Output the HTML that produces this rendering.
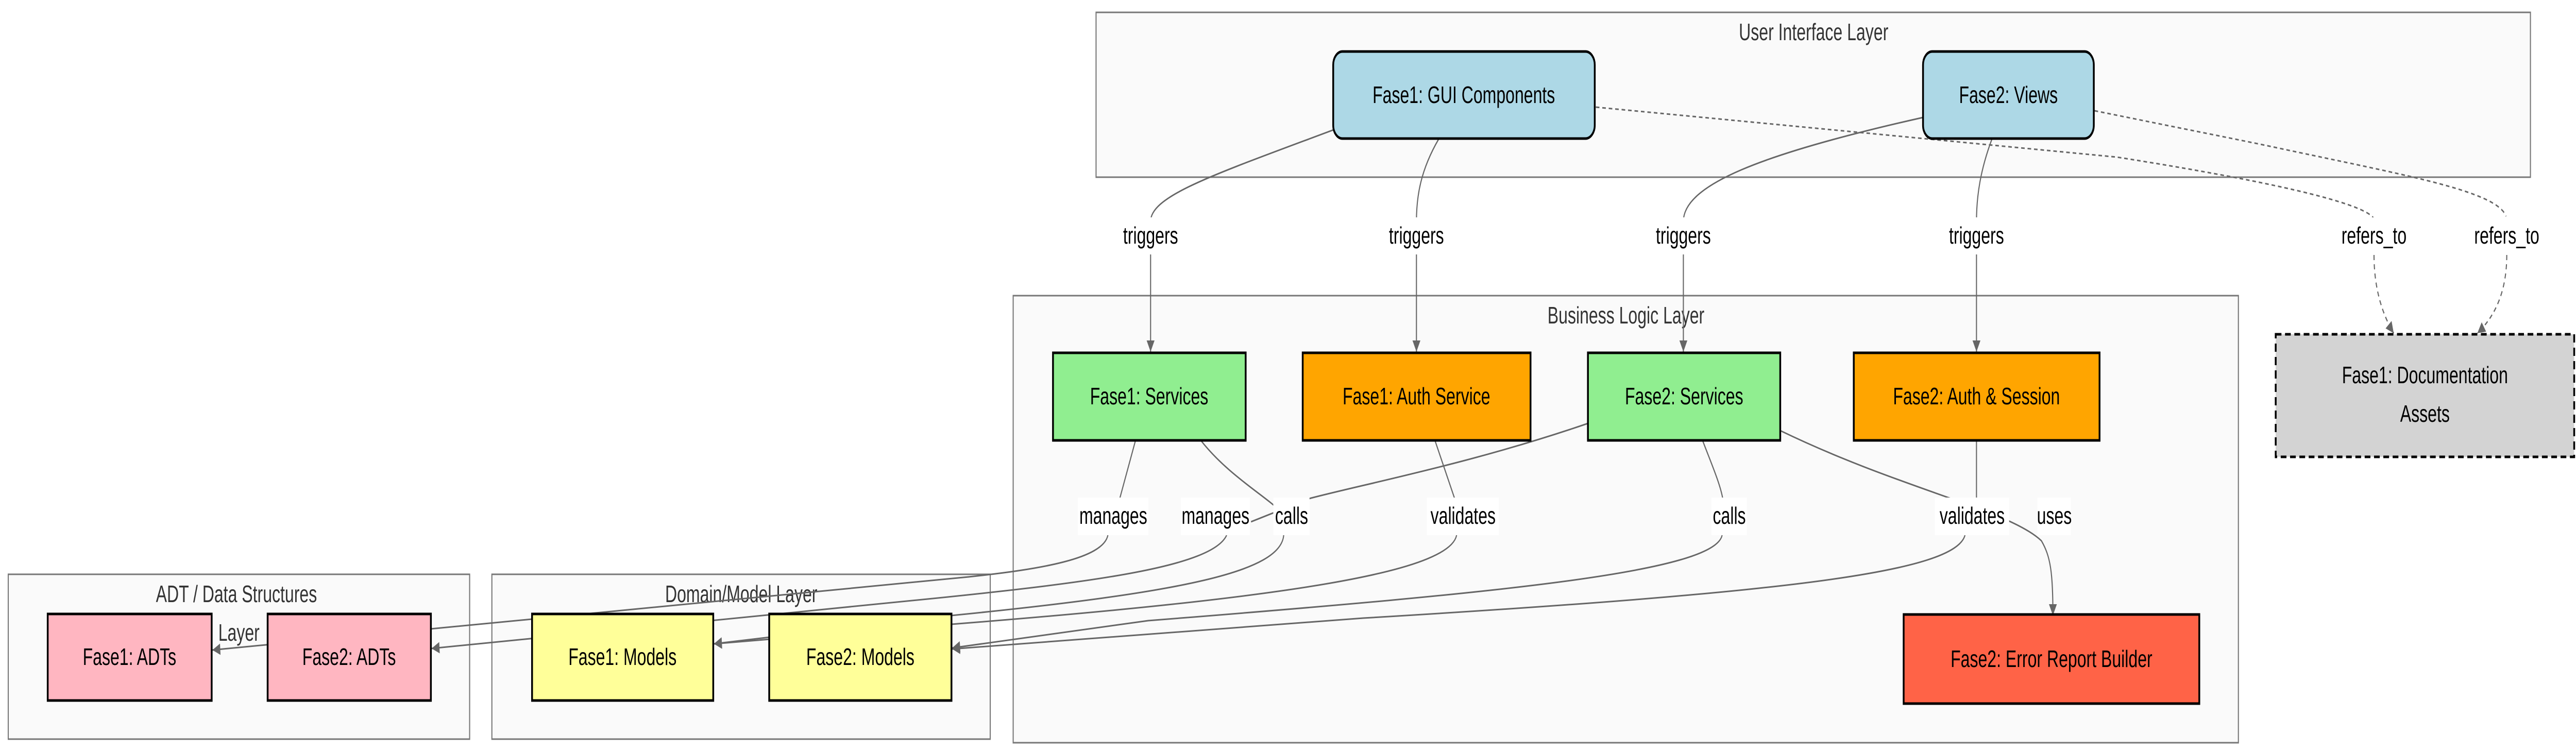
<!DOCTYPE html>
<html><head><meta charset="utf-8"><style>
html,body{margin:0;padding:0;background:#fff;width:100vw;height:100vh;overflow:hidden;}
svg{display:block;width:100vw;height:100vh;}
text{font-family:"Liberation Sans",sans-serif;}
</style></head><body>
<svg viewBox="0 0 7180 1460" preserveAspectRatio="none" xmlns="http://www.w3.org/2000/svg">
<defs>
<marker id="ar" viewBox="0 0 10 10" refX="10" refY="5" markerWidth="24" markerHeight="22" markerUnits="userSpaceOnUse" orient="auto"><path d="M0,0 L10,5 L0,10 z" fill="#666"/></marker>
</defs>
<rect width="7180" height="1460" fill="#fff"/>
<g fill="#fafafa" stroke="#777" stroke-width="3">
<rect x="3055" y="24" width="3998" height="320"/>
<rect x="2824" y="574" width="3415" height="868"/>
<rect x="23" y="1115" width="1286" height="320"/>
<rect x="1371" y="1115" width="1389" height="320"/>
</g>
<g font-size="46" fill="#333" text-anchor="middle" dominant-baseline="central">
<text x="5055" y="63">User Interface Layer</text>
<text x="4532" y="613">Business Logic Layer</text>
<text x="659" y="1154">ADT / Data Structures</text>
<text x="666" y="1229">Layer</text>
<text x="2066" y="1154">Domain/Model Layer</text>
</g>
<g fill="none" stroke="#666" stroke-width="3">
<path d="M3721,251 C3380,340 3207,380 3207,430"/>
<path d="M3207,490 L3207,683" marker-end="url(#ar)"/>
<path d="M4010,270 C3960,330 3948,380 3948,430"/>
<path d="M3948,490 L3948,683" marker-end="url(#ar)"/>
<path d="M5360,228 C4900,300 4692,360 4692,430"/>
<path d="M4692,490 L4692,683" marker-end="url(#ar)"/>
<path d="M5552,270 C5520,330 5509,380 5509,430"/>
<path d="M5509,490 L5509,683" marker-end="url(#ar)"/>

<path d="M3165,855 L3121,968"/>
<path d="M3347,855 C3420,920 3520,960 3565,990"/>
<path d="M4426,822 C4100,900 3800,940 3649,968 L3487,1013"/>
<path d="M4000,856 L4055,969"/>
<path d="M4746,856 C4770,900 4795,940 4802,969"/>
<path d="M5509,856 L5509,969"/>
<path d="M4962,836 C5300,950 5600,990 5690,1050 C5715,1080 5722,1110 5722,1195" marker-end="url(#ar)"/>

<path d="M3088,1039 C3075,1085 2900,1105 2700,1120 L592,1262" marker-end="url(#ar)"/>
<path d="M3419,1039 C3380,1100 3050,1130 2600,1162 L1203,1259" marker-end="url(#ar)"/>
<path d="M3578,1039 C3570,1110 3300,1150 2652,1195 L1990,1250" marker-end="url(#ar)"/>
<path d="M4060,1039 C4040,1110 3600,1160 2652,1212 L1990,1250" marker-end="url(#ar)"/>
<path d="M4800,1039 C4780,1110 4200,1150 3200,1205 L2654,1258" marker-end="url(#ar)"/>
<path d="M5477,1039 C5450,1110 5000,1150 3800,1200 L2654,1260" marker-end="url(#ar)"/>
</g>
<g fill="none" stroke="#666" stroke-width="3" stroke-dasharray="10 8">
<path d="M4448,208 L5900,305 C6400,360 6600,400 6617,425"/>
<path d="M6617,495 C6617,560 6640,610 6672,647" marker-end="url(#ar)"/>
<path d="M5838,215 L6300,280 C6700,340 6960,370 6985,420"/>
<path d="M6987,495 C6987,560 6960,610 6905,647" marker-end="url(#ar)"/>
</g>
<g fill="#fff">
<rect x="3122" y="422" width="170" height="72"/>
<rect x="3863" y="422" width="170" height="72"/>
<rect x="4607" y="422" width="170" height="72"/>
<rect x="5424" y="422" width="170" height="72"/>
<rect x="6515" y="422" width="205" height="72"/>
<rect x="6884" y="422" width="205" height="72"/>
<rect x="3004" y="966" width="197" height="73"/>
<rect x="3291" y="966" width="193" height="73"/>
<rect x="3549" y="966" width="101" height="73"/>
<rect x="3977" y="966" width="201" height="73"/>
<rect x="4770" y="966" width="99" height="73"/>
<rect x="5393" y="966" width="207" height="73"/>
<rect x="5679" y="966" width="93" height="73"/>
</g>
<g font-size="46" fill="#000" text-anchor="middle" dominant-baseline="central">
<text x="3207" y="458">triggers</text>
<text x="3948" y="458">triggers</text>
<text x="4692" y="458">triggers</text>
<text x="5509" y="458">triggers</text>
<text x="6617" y="458">refers_to</text>
<text x="6987" y="458">refers_to</text>
<text x="3103" y="1002">manages</text>
<text x="3388" y="1002">manages</text>
<text x="3600" y="1002">calls</text>
<text x="4078" y="1002">validates</text>
<text x="4820" y="1002">calls</text>
<text x="5497" y="1002">validates</text>
<text x="5726" y="1002">uses</text>
</g>
<g stroke="#000" stroke-width="5">
<rect x="3716" y="100" width="729" height="169" rx="26" fill="#add8e6"/>
<rect x="5360" y="100" width="476" height="169" rx="26" fill="#add8e6"/>
<rect x="2935" y="685" width="537" height="170" fill="#90ee90"/>
<rect x="3631" y="685" width="635" height="170" fill="#ffa500"/>
<rect x="4426" y="685" width="536" height="170" fill="#90ee90"/>
<rect x="5167" y="685" width="685" height="170" fill="#ffa500"/>
<rect x="5306" y="1193" width="824" height="173" fill="#ff6347"/>
<rect x="133" y="1192" width="457" height="168" fill="#ffb6c1"/>
<rect x="746" y="1192" width="455" height="168" fill="#ffb6c1"/>
<rect x="1483" y="1192" width="505" height="168" fill="#ffff99"/>
<rect x="2144" y="1192" width="508" height="168" fill="#ffff99"/>
<rect x="6343" y="649" width="832" height="238" fill="#d3d3d3" stroke-dasharray="16 10"/>
</g>
<g font-size="46" fill="#000" text-anchor="middle" dominant-baseline="central">
<text x="4080" y="185">Fase1: GUI Components</text>
<text x="5598" y="185">Fase2: Views</text>
<text x="3203" y="770">Fase1: Services</text>
<text x="3948" y="770">Fase1: Auth Service</text>
<text x="4694" y="770">Fase2: Services</text>
<text x="5509" y="770">Fase2: Auth &amp; Session</text>
<text x="5718" y="1280">Fase2: Error Report Builder</text>
<text x="361" y="1276">Fase1: ADTs</text>
<text x="973" y="1276">Fase2: ADTs</text>
<text x="1735" y="1276">Fase1: Models</text>
<text x="2398" y="1276">Fase2: Models</text>
<text x="6759" y="729">Fase1: Documentation</text>
<text x="6759" y="804">Assets</text>
</g>
</svg>
</body></html>
